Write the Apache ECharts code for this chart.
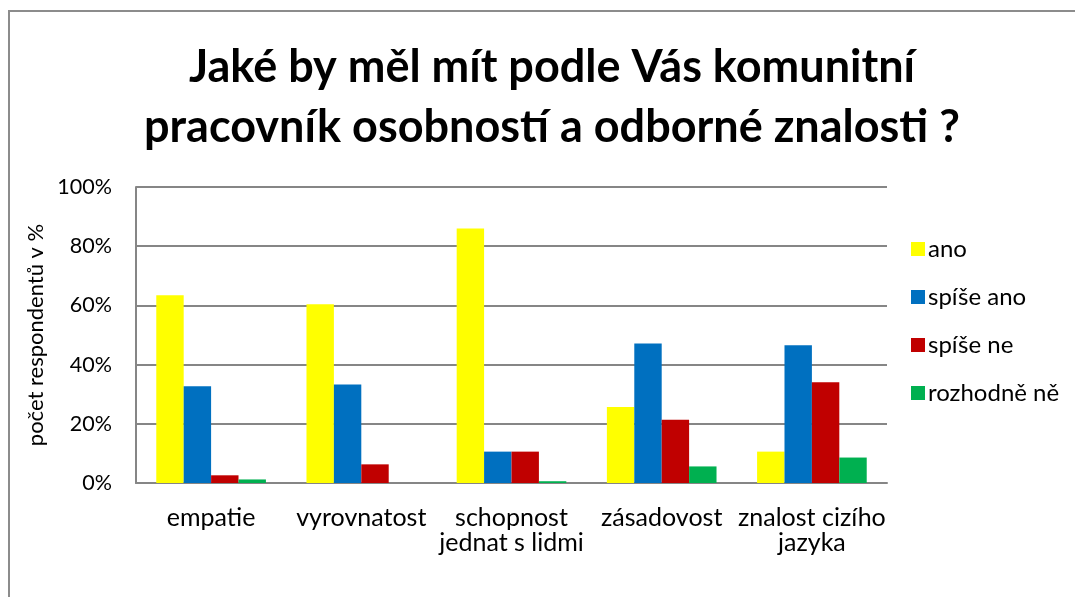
<!DOCTYPE html>
<html><head><meta charset="utf-8">
<script src="https://cdn.jsdelivr.net/npm/echarts@6/dist/echarts.min.js"></script>
<style>html,body{margin:0;padding:0;background:#fff}#c{width:1075px;height:597px}</style>
</head><body><div id="c"></div>
<script>
const categories = ['empatie', 'vyrovnatost', 'schopnost\njednat s lidmi', 'zásadovost', 'znalost cizího\njazyka'];
const seriesNames = ['ano', 'spíše ano', 'spíše ne', 'rozhodně ně'];
const ano = [63.4, 60.4, 86.0, 25.7, 10.6];
const spiseAno = [32.7, 33.3, 10.6, 47.1, 46.5];
const spiseNe = [2.6, 6.3, 10.6, 21.4, 34.0];
const rozhodneNe = [1.2, 0, 0.6, 5.6, 8.6];
const yTicks = [0, 20, 40, 60, 80, 100];
const colors = ['#FFFF00', '#0070C0', '#C00000', '#00B050'];
const values = [ano, spiseAno, spiseNe, rozhodneNe];
const FONT = 'Lato';

const chart = echarts.init(document.getElementById('c'), null, {renderer: 'canvas'});
chart.setOption({
  animation: false,
  color: colors,
  title: {
    text: 'Jaké by měl mít podle Vás komunitní\npracovník osobností a odborné znalosti ?',
    left: 547, top: 32, textAlign: 'center',
    textStyle: {fontFamily: FONT, fontWeight: 'bold', fontSize: 45, lineHeight: 60, color: '#000'}
  },
  graphic: [{
    type: 'rect', silent: true,
    shape: {x: 9, y: 11, width: 2000, height: 2000},
    style: {fill: 'none', stroke: '#8c8c8c', lineWidth: 2}
  }],
  legend: {
    orient: 'vertical', left: 906, top: 232, itemGap: 24,
    itemWidth: 14, itemHeight: 14, icon: 'rect',
    data: seriesNames,
    textStyle: {fontFamily: FONT, fontSize: 24, lineHeight: 24, color: '#000', padding: [0, 0, 0, -2]}
  },
  grid: {left: 136, top: 187, width: 751, height: 296, containLabel: false},
  xAxis: {
    type: 'category', data: categories,
    axisLine: {lineStyle: {color: '#868686', width: 2}},
    axisTick: {show: false},
    axisLabel: {fontFamily: FONT, fontSize: 25, color: '#000', margin: 22, lineHeight: 25, interval: 0}
  },
  yAxis: {
    type: 'value', min: 0, max: 100, interval: 20,
    name: 'počet respondentů v %', nameLocation: 'middle', nameGap: 85,
    nameTextStyle: {fontFamily: FONT, fontSize: 22, color: '#000'},
    axisLine: {show: true, lineStyle: {color: '#868686', width: 2}},
    axisTick: {show: false},
    splitLine: {lineStyle: {color: '#868686', width: 2}},
    axisLabel: {fontFamily: FONT, fontSize: 21.5, color: '#000', margin: 24,
      formatter: v => yTicks.includes(v) ? v + '%' : ''}
  },
  series: seriesNames.map((n, i) => ({
    name: n, type: 'bar', data: values[i],
    barGap: '0%', barCategoryGap: '27%',
    itemStyle: {color: colors[i]}
  }))
});
</script></body></html>
